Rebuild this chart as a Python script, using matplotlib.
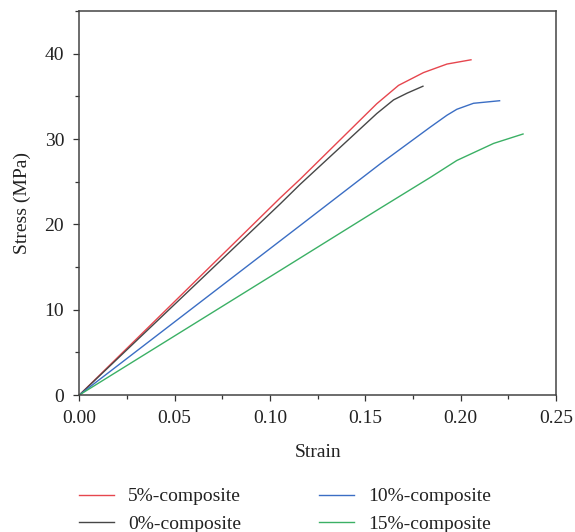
import matplotlib
matplotlib.use("Agg")
import matplotlib.pyplot as plt
from matplotlib.ticker import MultipleLocator

plt.rcParams['font.family'] = ['Liberation Serif', 'DejaVu Serif']

# Data
strain_5 = [0.0, 0.1053, 0.1158, 0.156, 0.1674, 0.1805, 0.1928, 0.2054]
stress_5 = [0.0, 23.1, 25.3, 34.15, 36.3, 37.8, 38.8, 39.3]

strain_0 = [0.0, 0.1053, 0.1158, 0.156, 0.1648, 0.1720, 0.1802]
stress_0 = [0.0, 22.4, 24.7, 33.0, 34.6, 35.4, 36.2]

strain_10 = [0.0, 0.1053, 0.1158, 0.1578, 0.184, 0.1928, 0.198, 0.2067, 0.2204]
stress_10 = [0.0, 18.07, 19.87, 27.1, 31.4, 32.8, 33.5, 34.2, 34.5]

strain_15 = [0.0, 0.1053, 0.1578, 0.184, 0.198, 0.2173, 0.2327]
stress_15 = [0.0, 14.6, 21.9, 25.5, 27.5, 29.5, 30.6]

labels = ["5%-composite", "0%-composite", "10%-composite", "15%-composite"]
colors = ["#e6464e", "#474747", "#3b6ec4", "#3bb065"]

xticks = [0.00, 0.05, 0.10, 0.15, 0.20, 0.25]
yticks = [0, 10, 20, 30, 40]

fig = plt.figure(figsize=(5.75, 5.32), dpi=100)
ax = fig.add_axes([0.138, 0.2575, 0.829, 0.7215])

series = [(strain_5, stress_5), (strain_0, stress_0), (strain_10, stress_10), (strain_15, stress_15)]
handles = []
for (xs, ys), lab, c in zip(series, labels, colors):
    h, = ax.plot(xs, ys, color=c, lw=1.0, label=lab)
    handles.append(h)

ax.set_xlim(0, 0.25)
ax.set_ylim(0, 45)
ax.set_xticks(xticks)
ax.set_xticklabels([f"{v:.2f}" for v in xticks])
ax.set_yticks(yticks)
ax.xaxis.set_minor_locator(MultipleLocator(0.025))
ax.yaxis.set_minor_locator(MultipleLocator(5))
ax.tick_params(which='major', direction='out', length=4.5, width=0.9, color='#333333',
               labelsize=14, labelcolor='#222222', pad=6.5)
ax.tick_params(which='minor', direction='out', length=3, width=0.9, color='#333333')
for s in ax.spines.values():
    s.set_color('#444444')
    s.set_linewidth(1.1)

ax.set_xlabel("Strain", fontsize=14, color='#222222', labelpad=12)
ax.set_ylabel("Stress (MPa)", fontsize=14, color='#222222', labelpad=10)

fig.legend(handles=handles, labels=labels, ncol=2, frameon=False,
           loc='upper left', bbox_to_anchor=(0.138, 0.083), fontsize=14,
           handlelength=1.8, handletextpad=0.72, columnspacing=4.0,
           labelspacing=0.5, labelcolor='#222222', borderaxespad=0, borderpad=0)

fig.savefig("out.png", dpi=100)
